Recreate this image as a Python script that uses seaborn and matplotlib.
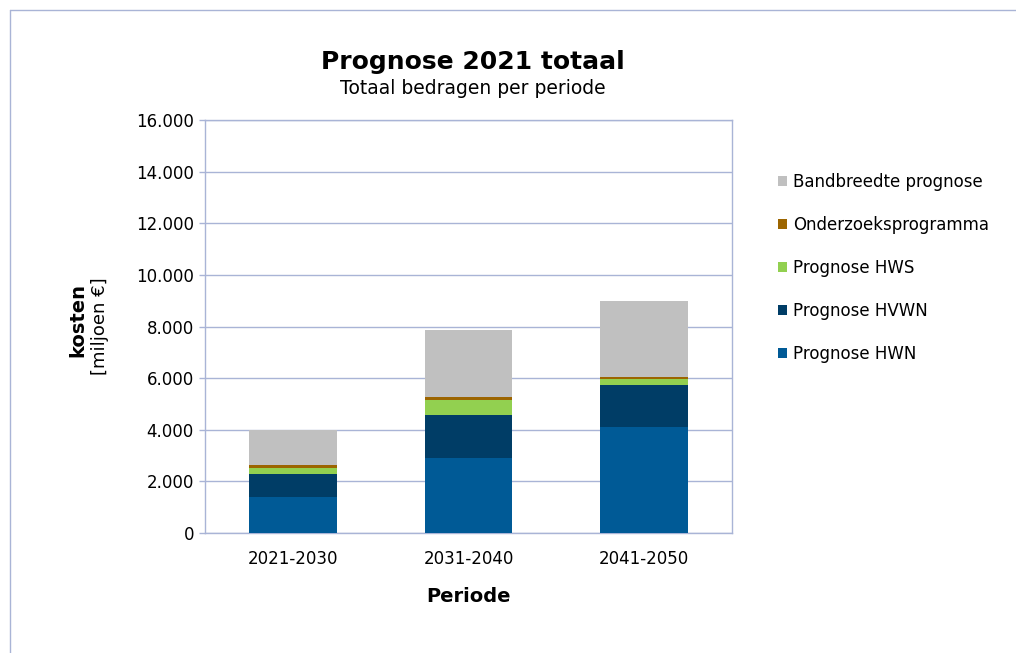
import matplotlib
matplotlib.use("Agg")
import matplotlib.pyplot as plt
import matplotlib.ticker as mticker
from matplotlib.lines import Line2D
from matplotlib.patches import Patch
import numpy as np
import pandas as pd
import seaborn as sns

# data (miljoen euro)
periodes = ["2021-2030", "2031-2040", "2041-2050"]
hwn = [1400, 2900, 4100]
hvwn = [900, 1680, 1650]
hws = [200, 570, 200]
onderzoek = [130, 110, 80]
bandbreedte = [1370, 2620, 2970]

series = ["Prognose HWN", "Prognose HVWN", "Prognose HWS", "Onderzoeksprogramma", "Bandbreedte prognose"]
values = [hwn, hvwn, hws, onderzoek, bandbreedte]
colors = ["#005A96", "#003D66", "#92D050", "#9C6500", "#C0C0C0"]

sns.set_theme(style="white")
plt.rcParams["font.family"] = ["DejaVu Sans"]
plt.rcParams["text.color"] = "black"

fig = plt.figure(figsize=(10.16, 6.53), dpi=100)
ax = fig.add_axes([0.2018, 0.1838, 0.5187, 0.6324])

# stacked bars: draw cumulative totals from the top series down
cum = np.cumsum(np.array(values), axis=0)
for i in range(len(series) - 1, -1, -1):
    df = pd.DataFrame({"periode": periodes, "waarde": cum[i]})
    sns.barplot(data=df, x="periode", y="waarde", color=colors[i], width=0.5,
                saturation=1, edgecolor="none", linewidth=0, ax=ax, zorder=3)

gridc = "#A9B4D6"
ax.set_ylim(0, 16000)
ax.set_xlim(-0.5, 2.5)
ax.yaxis.set_major_locator(mticker.MultipleLocator(2000))
ax.yaxis.set_major_formatter(mticker.FuncFormatter(lambda v, p: f"{int(v):,}".replace(",", ".")))
ax.grid(axis="y", color=gridc, linewidth=1, zorder=0)
ax.set_axisbelow(True)
for s in ax.spines.values():
    s.set_color(gridc)
    s.set_linewidth(1)
ax.tick_params(axis="both", labelsize=12, labelcolor="black", length=4, direction="out",
               left=True, bottom=False, width=1)
ax.tick_params(axis="y", color=gridc, pad=4)
ax.tick_params(axis="x", pad=8)
ax.set_xlabel("Periode", fontsize=14, fontweight="bold", labelpad=14, color="black")
ax.set_ylabel("")

fig.text(0.4655, 0.905, "Prognose 2021 totaal", ha="center", va="center", fontsize=18, fontweight="bold")
fig.text(0.4655, 0.864, "Totaal bedragen per periode", ha="center", va="center", fontsize=13.5)
fig.text(0.077, 0.51, "kosten", rotation=90, ha="center", va="center", fontsize=14, fontweight="bold")
fig.text(0.098, 0.50, "[miljoen €]", rotation=90, ha="center", va="center", fontsize=13)

handles = [Patch(facecolor=colors[i], edgecolor="none") for i in range(len(series) - 1, -1, -1)]
labels = [series[i] for i in range(len(series) - 1, -1, -1)]
fig.legend(handles, labels, loc="upper left", bbox_to_anchor=(0.759, 0.745), frameon=False,
           fontsize=12, labelspacing=1.5, handlelength=0.55, handleheight=0.55,
           handletextpad=0.35, borderaxespad=0)

# outer chart border
border = "#A9B4D6"
fig.add_artist(Line2D([0.0098, 0.0098], [0, 0.985], color=border, lw=1, transform=fig.transFigure))
fig.add_artist(Line2D([0.0098, 1], [0.985, 0.985], color=border, lw=1, transform=fig.transFigure))

fig.savefig("out.png", dpi=100)
